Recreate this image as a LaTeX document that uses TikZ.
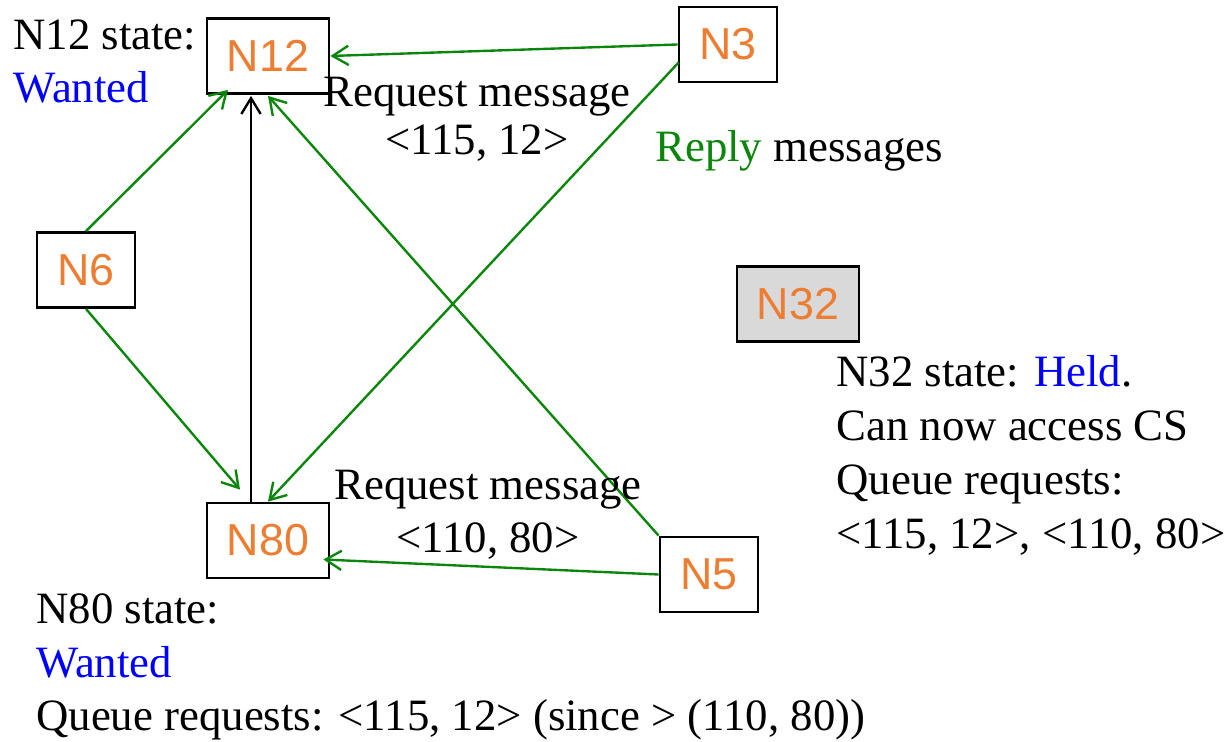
\documentclass[tikz,border=0pt]{standalone}
\usepackage{fontspec}
\setmainfont{Liberation Serif}
\newfontfamily\boxfont{Liberation Sans}
\usetikzlibrary{arrows.meta,calc}
\definecolor{nodeorange}{HTML}{ED7D31}
\definecolor{msggreen}{HTML}{0A860A}
\definecolor{stateblue}{HTML}{0000FF}
\definecolor{heldgray}{HTML}{D9D9D9}
\tikzset{
  procbox/.style={draw=black, line width=1.6pt, inner sep=0pt, text=nodeorange,
    font=\boxfont\fontsize{25.5}{30}\selectfont},
  wide/.style={minimum width=122*0.02cm, minimum height=75*0.02cm},
  narrow/.style={minimum width=98*0.02cm, minimum height=75*0.02cm},
  txt/.style={anchor=base west, inner sep=0pt, font=\fontsize{25.5}{30}\selectfont},
  ctxt/.style={anchor=base, inner sep=0pt, font=\fontsize{25.5}{30}\selectfont},
  msg/.style={draw=msggreen, line width=1.35pt, -{Straight Barb[length=9pt,width=11pt,line width=1.35pt]}},
  blk/.style={draw=black, line width=1.35pt, -{Straight Barb[length=9pt,width=11pt,line width=1.35pt]}}
}
\begin{document}
\begin{tikzpicture}[x=0.02cm,y=-0.02cm]
\useasboundingbox (0,0) rectangle (1230,742);
% process boxes
\node[procbox,wide] (N12) at (268,56) {N12};
\node[procbox,narrow] (N3) at (728,44.5) {N3};
\node[procbox,narrow] (N6) at (86,270) {N6};
\node[procbox,wide,fill=heldgray] (N32) at (798,304) {N32};
\node[procbox,wide] (N80) at (268,540.5) {N80};
\node[procbox,narrow] (N5) at (709,574.5) {N5};
% connectors
\draw[msg] (N3.west) -- (N12.east);
\draw[msg] (N6.north) -- ($(N12.south)+(-40,-5)$);
\draw[blk] ($(N80.north)+(-17,0)$) -- ($(N12.south)+(-17,1)$);
\draw[msg] (N5.north west) -- ($(N12.south)+(0,1)$);
\draw[msg] ($(N3.west)+(1,18)$) -- (N80.north);
\draw[msg] (N6.south) -- ($(N80.north)+(-28,-12)$);
\draw[msg] (N5.west) -- ($(N80.east)+(-7,19)$);
% texts
\node[txt] (t12a) at (13,50) {N12 state:};
\node[txt,text=stateblue] (t12b) at (13,103) {Wanted};
\node[ctxt] (r1a) at (477,107) {Request message};
\node[ctxt] (r1b) at (477,155) {<115, 12>};
\node[txt] (rep) at (655,162) {\textcolor{msggreen}{Reply} messages};
\node[txt] (t32a) at (836,387) {N32 state: \textcolor{stateblue}{Held}.};
\node[txt] (t32b) at (836,441) {Can now access CS};
\node[txt] (t32c) at (836,495) {Queue requests:};
\node[txt] (t32d) at (836,549) {<115, 12>, <110, 80>};
\node[ctxt] (r2a) at (488,500) {Request message};
\node[ctxt] (r2b) at (488,553) {<110, 80>};
\node[txt] (t80a) at (36,623) {N80 state:};
\node[txt,text=stateblue] (t80b) at (36,677) {Wanted};
\node[txt] (t80c) at (36,730) {Queue requests: <115, 12> (since > (110, 80))};
\end{tikzpicture}
\end{document}
